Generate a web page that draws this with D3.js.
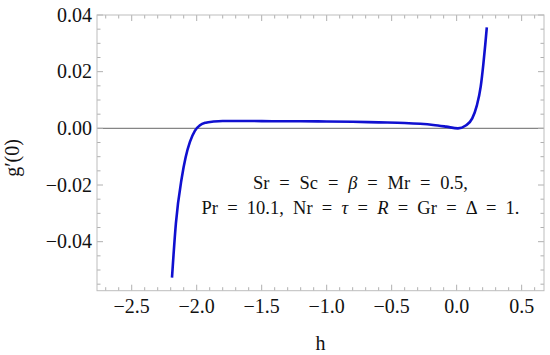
<!DOCTYPE html>
<html><head><meta charset="utf-8">
<script src="https://cdn.jsdelivr.net/npm/d3@7"></script>
<style>body{margin:0;background:#fff}svg{display:block}</style>
</head><body><svg id="c" width="550" height="355"></svg>
<script>
const hValues = [-2.19, -2.16, -2.115, -2.085, -2.052, -2.013, -1.975, -1.93, -1.87, -1.8, -1.6, -1.4, -1.2, -1.0, -0.8, -0.6, -0.4, -0.28, -0.18, -0.08, 0.01, 0.07, 0.12, 0.155, 0.185, 0.205, 0.22, 0.232];
const gValues = [-0.0527, -0.0335, -0.0175, -0.0102, -0.0048, -0.0008, 0.0011, 0.0020, 0.0024, 0.0026, 0.0026, 0.0025, 0.0025, 0.0024, 0.0023, 0.0021, 0.0019, 0.0016, 0.0012, 0.0006, 0.0000, 0.0010, 0.0035, 0.0080, 0.0147, 0.0225, 0.0295, 0.0356];
const xTicks = [-2.5, -2.0, -1.5, -1.0, -0.5, 0.0, 0.5];
const xTickLabels = ["\u22122.5", "\u22122.0", "\u22121.5", "\u22121.0", "\u22120.5", "0.0", "0.5"];
const yTicks = [0.04, 0.02, 0.00, -0.02, -0.04];
const yTickLabels = ["0.04", "0.02", "0.00", "\u22120.02", "\u22120.04"];
const xLabel = "h";
const yLabel = "g\u2032(0)";
const annotLine1 = [["Sr = Sc = ", false], ["\u03b2", true], [" = Mr = 0.5,", false]];
const annotLine2 = [["Pr = 10.1, Nr = ", false], ["\u03c4", true], [" = ", false], ["R", true], [" = Gr = \u0394 = 1.", false]];

const FONT = "'Liberation Serif', 'Times New Roman', serif";
const svg = d3.select("#c").attr("font-family", FONT);
const L = 97, R = 544, T = 15, B = 290.7;
const x = d3.scaleLinear().domain([-2.767, 0.672]).range([L, R]);
const y = d3.scaleLinear().domain([-0.0573, 0.04]).range([B, T]);

const xMinor = d3.range(-27, 7).map(d => d / 10).filter(v => x(v) >= L && x(v) <= R);
const yMinor = d3.range(-11, 9).map(d => d * 0.005).filter(v => y(v) >= T - 0.5 && y(v) <= B);

svg.append("line").attr("x1", L).attr("x2", R).attr("y1", y(0)).attr("y2", y(0))
  .attr("stroke", "#858585").attr("stroke-width", 1.2);

const tickCol = "#b0b0b0";
const g = svg.append("g");
xMinor.forEach(v => {
  const major = xTicks.some(t => Math.abs(t - v) < 1e-9);
  const len = major ? 6 : 3.5;
  g.append("line").attr("x1", x(v)).attr("x2", x(v)).attr("y1", B).attr("y2", B - len).attr("stroke", tickCol);
  g.append("line").attr("x1", x(v)).attr("x2", x(v)).attr("y1", T).attr("y2", T + len).attr("stroke", tickCol);
});
yMinor.forEach(v => {
  const major = yTicks.some(t => Math.abs(t - v) < 1e-9);
  const len = major ? 6 : 3.5;
  g.append("line").attr("x1", L).attr("x2", L + len).attr("y1", y(v)).attr("y2", y(v)).attr("stroke", tickCol);
  g.append("line").attr("x1", R).attr("x2", R - len).attr("y1", y(v)).attr("y2", y(v)).attr("stroke", tickCol);
});
svg.append("rect").attr("x", L).attr("y", T).attr("width", R - L).attr("height", B - T)
  .attr("fill", "none").attr("stroke", "#bdbdbd").attr("stroke-width", 1);

xTicks.forEach((v, i) => {
  svg.append("text").attr("x", x(v)).attr("y", 312.5).attr("text-anchor", "middle")
    .attr("font-family", FONT).attr("font-size", 20).attr("fill", "#111").text(xTickLabels[i]);
});
yTicks.forEach((v, i) => {
  svg.append("text").attr("x", 92).attr("y", y(v) + 6.8).attr("text-anchor", "end")
    .attr("font-family", FONT).attr("font-size", 20).attr("fill", "#111").text(yTickLabels[i]);
});
svg.append("text").attr("x", (L + R) / 2).attr("y", 350).attr("text-anchor", "middle")
  .attr("font-family", FONT).attr("font-size", 20).attr("fill", "#111").text(xLabel);
svg.append("text").attr("transform", "translate(19,158) rotate(-90)").attr("text-anchor", "middle")
  .attr("font-family", FONT).attr("font-size", 20).attr("fill", "#111").text(yLabel);

const pts = hValues.map((h, i) => [h, gValues[i]]);
svg.append("path").datum(pts)
  .attr("d", d3.line().x(d => x(d[0])).y(d => y(d[1])).curve(d3.curveMonotoneX))
  .attr("fill", "none").attr("stroke", "#1010d0").attr("stroke-width", 2.6);

function annot(parts, yy, target) {
  const t = svg.append("text").attr("x", 360.5).attr("y", yy).attr("text-anchor", "middle")
    .attr("font-family", FONT).attr("font-size", 18.5).attr("fill", "#111");
  parts.forEach(p => t.append("tspan").attr("font-style", p[1] ? "italic" : "normal").text(p[0]));
  const w = t.node().getComputedTextLength();
  const nSp = parts.map(p => p[0]).join("").split(" ").length - 1;
  if (nSp > 0) t.attr("word-spacing", Math.max(0, (target - w) / nSp));
}
annot(annotLine1, 188.5, 215);
annot(annotLine2, 214, 318);
</script></body></html>
